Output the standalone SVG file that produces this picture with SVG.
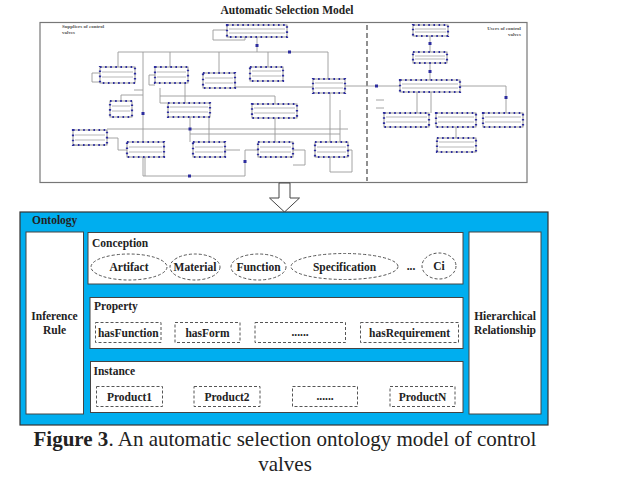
<svg xmlns="http://www.w3.org/2000/svg" width="637" height="503" viewBox="0 0 637 503">
<style>
.t{font-family:"Liberation Serif","Times New Roman",serif;font-weight:bold;fill:#222;font-size:11.5px}
.c{text-anchor:middle}
.nb{fill:#fff;stroke:#8a8a8a;stroke-width:0.9}
.ni{stroke:#9a9a9a;stroke-width:0.7}
.nd{fill:none;stroke:#2c2c9e;stroke-width:2.2;stroke-dasharray:1.6 3.5}
.cn{fill:none;stroke:#9a9a9a;stroke-width:0.9}
.jd{fill:#2c2c9e}
.box{fill:#fff;stroke:#444;stroke-width:1}
.dsh{fill:#fff;stroke:#555;stroke-width:1;stroke-dasharray:3 2}
.sm{font-family:"Liberation Serif",serif;font-weight:bold;font-size:5px;fill:#555}
.cap{font-family:"Liberation Serif","Times New Roman",serif;font-size:21px;fill:#222;text-anchor:middle}
</style>
<rect width="637" height="503" fill="#fff"/>

<!-- Top model -->
<text class="t c" x="287" y="14" font-size="12.5">Automatic Selection Model</text>
<g id="model-frame">
<rect x="40" y="22.5" width="487" height="160" fill="#fff" stroke="#777" stroke-width="1.2"/>
<line x1="367" y1="25" x2="367" y2="181" stroke="#555" stroke-width="1.3" stroke-dasharray="5 3"/>
<text class="sm" x="62" y="28">Suppliers of control</text>
<text class="sm" x="62" y="34">valves</text>
<text class="sm" x="521" y="30" text-anchor="end">Users of control</text>
<text class="sm" x="521" y="36" text-anchor="end">valves</text>
</g>

<g id="model-connectors">
<path class="cn" d="M257,37V52 M118,52H328 M118,52V67 M170,52V67 M219,52V73 M268,52V67 M328,52V79"/>
<path class="cn" d="M227,30H213V40H245V37"/>
<path class="cn" d="M100,73H92V82H100 M155,75H149V85H155"/>
<path class="cn" d="M143,52V176H245V150H258 M145,157V176"/>
<path class="cn" d="M235,87H313 M345,86H400"/>
<path class="cn" d="M107,129H348 M190,134H340"/>
<path class="cn" d="M190,117V142 M209,117V142 M275,118V142 M330,93V142 M340,110V142"/>
<path class="cn" d="M160,96H275V104 M160,88V103H168 M185,83V103"/>
<path class="cn" d="M121,95V101 M121,95H143 M134,90H143"/>
<path class="cn" d="M88,145H73 M107,138H118V150H127 M225,150H240 M293,150H305V165H293 M348,150H352V172H330V157"/>
<path class="cn" d="M430,36V52 M430,63V80 M417,92V113 M431,92V113 M460,86H506V113 M456,127V138 M384,100H376 M376,108H384"/>
<rect class="jd" x="141.5" y="112" width="3" height="3"/>
<rect class="jd" x="188.5" y="127.5" width="3" height="3"/>
<rect class="jd" x="243.5" y="160" width="3" height="3"/>
<rect class="jd" x="188" y="174.5" width="3" height="3"/>
<rect class="jd" x="255.5" y="44" width="3" height="3"/>
<rect class="jd" x="288" y="50.5" width="3" height="3"/>
<rect class="jd" x="428.5" y="42" width="3" height="3"/>
<rect class="jd" x="428.5" y="70" width="3" height="3"/>
<rect class="jd" x="504.5" y="96" width="3" height="3"/>
<rect class="jd" x="375" y="84.5" width="3" height="3"/>
</g>

<g id="sn-a"><rect class="nb" x="227" y="25" width="60" height="12"/><path class="ni" d="M229,29H285M229,33H285"/><rect class="nd" x="227" y="25" width="60" height="12"/></g>
<g id="sn-b"><rect class="nb" x="100" y="67" width="35" height="16"/><path class="ni" d="M102,72H133M102,77H133"/><rect class="nd" x="100" y="67" width="35" height="16"/></g>
<g id="sn-c"><rect class="nb" x="155" y="67" width="33" height="16"/><path class="ni" d="M157,72H186M157,77H186"/><rect class="nd" x="155" y="67" width="33" height="16"/></g>
<g id="sn-d"><rect class="nb" x="203" y="73" width="32" height="15"/><path class="ni" d="M205,78H233M205,83H233"/><rect class="nd" x="203" y="73" width="32" height="15"/></g>
<g id="sn-g"><rect class="nb" x="250" y="67" width="33" height="14"/><path class="ni" d="M252,71H281M252,76H281"/><rect class="nd" x="250" y="67" width="33" height="14"/></g>
<g id="sn-h"><rect class="nb" x="313" y="79" width="32" height="14"/><path class="ni" d="M315,83H343M315,88H343"/><rect class="nd" x="313" y="79" width="32" height="14"/></g>
<g id="sn-e"><rect class="nb" x="110" y="101" width="22" height="16"/><path class="ni" d="M112,106H130M112,111H130"/><rect class="nd" x="110" y="101" width="22" height="16"/></g>
<g id="sn-f"><rect class="nb" x="168" y="103" width="42" height="14"/><path class="ni" d="M170,107H208M170,112H208"/><rect class="nd" x="168" y="103" width="42" height="14"/></g>
<g id="sn-i"><rect class="nb" x="252" y="104" width="45" height="14"/><path class="ni" d="M254,108H295M254,113H295"/><rect class="nd" x="252" y="104" width="45" height="14"/></g>
<g id="sn-j"><rect class="nb" x="73" y="130" width="34" height="15"/><path class="ni" d="M75,135H105M75,140H105"/><rect class="nd" x="73" y="130" width="34" height="15"/></g>
<g id="sn-k"><rect class="nb" x="127" y="142" width="37" height="15"/><path class="ni" d="M129,147H162M129,152H162"/><rect class="nd" x="127" y="142" width="37" height="15"/></g>
<g id="sn-l"><rect class="nb" x="193" y="142" width="32" height="15"/><path class="ni" d="M195,147H223M195,152H223"/><rect class="nd" x="193" y="142" width="32" height="15"/></g>
<g id="sn-m"><rect class="nb" x="258" y="142" width="35" height="15"/><path class="ni" d="M260,147H291M260,152H291"/><rect class="nd" x="258" y="142" width="35" height="15"/></g>
<g id="sn-n"><rect class="nb" x="315" y="142" width="33" height="15"/><path class="ni" d="M317,147H346M317,152H346"/><rect class="nd" x="315" y="142" width="33" height="15"/></g>
<g id="un-1"><rect class="nb" x="413" y="25" width="35" height="11"/><path class="ni" d="M415,29H446M415,32H446"/><rect class="nd" x="413" y="25" width="35" height="11"/></g>
<g id="un-2"><rect class="nb" x="413" y="52" width="34" height="11"/><path class="ni" d="M415,56H445M415,59H445"/><rect class="nd" x="413" y="52" width="34" height="11"/></g>
<g id="un-3"><rect class="nb" x="400" y="80" width="60" height="12"/><path class="ni" d="M402,84H458M402,88H458"/><rect class="nd" x="400" y="80" width="60" height="12"/></g>
<g id="un-4"><rect class="nb" x="384" y="113" width="45" height="14"/><path class="ni" d="M386,117H427M386,122H427"/><rect class="nd" x="384" y="113" width="45" height="14"/></g>
<g id="un-5"><rect class="nb" x="436" y="113" width="40" height="14"/><path class="ni" d="M438,117H474M438,122H474"/><rect class="nd" x="436" y="113" width="40" height="14"/></g>
<g id="un-6"><rect class="nb" x="483" y="113" width="40" height="14"/><path class="ni" d="M485,117H521M485,122H521"/><rect class="nd" x="483" y="113" width="40" height="14"/></g>
<g id="un-7"><rect class="nb" x="437" y="138" width="39" height="14"/><path class="ni" d="M439,142H474M439,147H474"/><rect class="nd" x="437" y="138" width="39" height="14"/></g>

<!-- Arrow -->
<g id="down-arrow">
<polygon points="279,183 290,183 290,198 299.5,198 284.5,212 269.5,198 279,198" fill="#fff" stroke="#444" stroke-width="1"/>
</g>

<!-- Ontology -->
<g id="ontology">
<rect x="20" y="212" width="528" height="213" fill="#00AEEF" stroke="#333" stroke-width="1.2"/>
<text class="t" x="32" y="224">Ontology</text>
</g>
<g id="inference-rule">
<rect class="box" x="26" y="232" width="57.5" height="182"/>
<text class="t c" x="54.5" y="320">Inference</text>
<text class="t c" x="54.5" y="334">Rule</text>
</g>
<g id="hierarchical">
<rect class="box" x="469" y="232" width="72" height="182"/>
<text class="t c" x="505" y="320">Hierarchical</text>
<text class="t c" x="505" y="334">Relationship</text>
</g>

<g id="conception">
<rect class="box" x="88" y="232.5" width="375" height="51.5"/>
<text class="t" x="92" y="247">Conception</text>
</g>
<g id="c-artifact"><ellipse class="dsh" cx="129" cy="267" rx="38" ry="13"/><text class="t c" x="129" y="271">Artifact</text></g>
<g id="c-material"><ellipse class="dsh" cx="195" cy="267" rx="25" ry="13"/><text class="t c" x="195" y="271">Material</text></g>
<g id="c-function"><ellipse class="dsh" cx="258.5" cy="267" rx="27.5" ry="13"/><text class="t c" x="258.5" y="271">Function</text></g>
<g id="c-spec"><ellipse class="dsh" cx="344.5" cy="266.5" rx="53.5" ry="13"/><text class="t c" x="344.5" y="270.5">Specification</text></g>
<text class="t c" x="411" y="270">...</text>
<g id="c-ci"><ellipse class="dsh" cx="439" cy="266" rx="17" ry="13"/><text class="t c" x="439" y="270">Ci</text></g>

<g id="property">
<rect class="box" x="90" y="297.5" width="373" height="51"/>
<text class="t" x="94" y="310">Property</text>
</g>
<g id="p-hasfunction"><rect class="dsh" x="95.5" y="322.5" width="65.5" height="20"/><text class="t c" x="128.3" y="336.5">hasFunction</text></g>
<g id="p-hasform"><rect class="dsh" x="175" y="322.5" width="65" height="20"/><text class="t c" x="207.5" y="336.5">hasForm</text></g>
<g id="p-etc"><rect class="dsh" x="255" y="322.5" width="90.5" height="20"/><text class="t c" x="300" y="336" font-size="8" font-weight="normal">......</text></g>
<g id="p-hasreq"><rect class="dsh" x="360.5" y="322.5" width="98" height="20"/><text class="t c" x="409.5" y="336.5">hasRequirement</text></g>

<g id="instance">
<rect class="box" x="90.5" y="361.5" width="372.5" height="51"/>
<text class="t" x="93.5" y="375">Instance</text>
</g>
<g id="i-product1"><rect class="dsh" x="96.5" y="386.5" width="66" height="20"/><text class="t c" x="129.5" y="400.5">Product1</text></g>
<g id="i-product2"><rect class="dsh" x="194" y="386.5" width="66" height="20"/><text class="t c" x="227" y="400.5">Product2</text></g>
<g id="i-etc"><rect class="dsh" x="292.5" y="386.5" width="65" height="20"/><text class="t c" x="325" y="400" font-size="8" font-weight="normal">......</text></g>
<g id="i-productn"><rect class="dsh" x="390" y="386.5" width="65" height="20"/><text class="t c" x="422.5" y="400.5">ProductN</text></g>

<!-- Caption -->
<text class="cap" x="285" y="446"><tspan font-weight="bold">Figure 3</tspan>. An automatic selection ontology model of control</text>
<text class="cap" x="285" y="471">valves</text>
</svg>
